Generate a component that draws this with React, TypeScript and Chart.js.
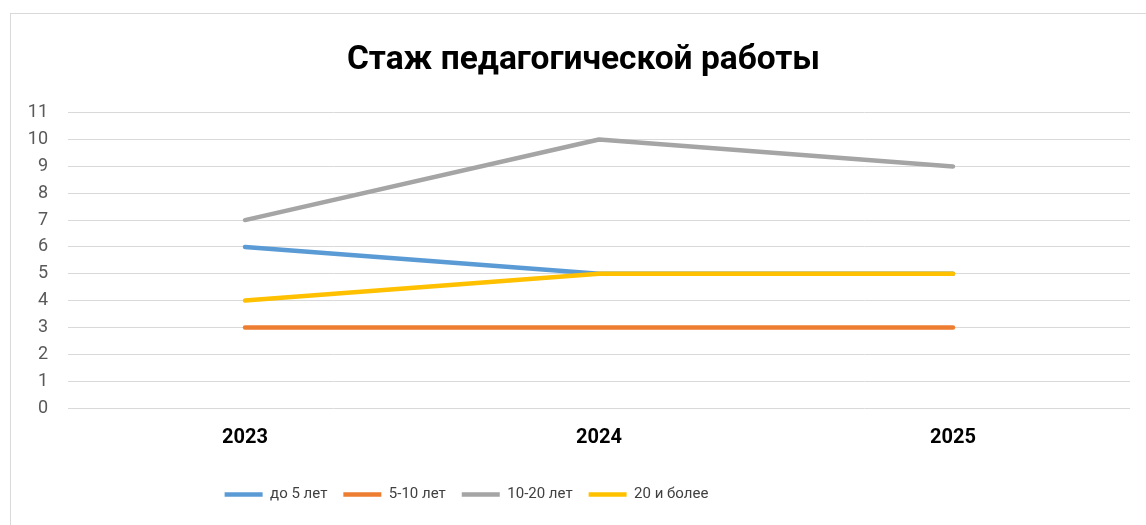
import React, { useEffect, useRef } from "react";
import { Chart, registerables } from "chart.js";

Chart.register(...registerables);

const title = "Стаж педагогической работы";
const categories = ["2023", "2024", "2025"];
const seriesNames = ["до 5 лет", "5-10 лет", "10-20 лет", "20 и более"];
const under5 = [6, 5, 5];
const from5to10 = [3, 3, 3];
const from10to20 = [7, 10, 9];
const over20 = [4, 5, 5];
const seriesColors = ["#5B9BD5", "#ED7D31", "#A5A5A5", "#FFC000"];
const yMin = 0;
const yMax = 11;
const yStep = 1;

const FONT = "Roboto, 'Open Sans', sans-serif";

const blockShift = {
  id: "blockShift",
  afterLayout(chart: any) {
    const lg = chart.legend;
    if (lg) {
      lg.left -= 104;
      lg.right -= 104;
    }
    const tb = chart.titleBlock;
    if (tb) {
      tb.left += 13;
      tb.right += 13;
    }
  },
};

export default function App() {
  const canvasRef = useRef<HTMLCanvasElement | null>(null);

  useEffect(() => {
    const canvas = canvasRef.current;
    if (!canvas) return;
    const values = [under5, from5to10, from10to20, over20];
    const chart = new Chart(canvas, {
      type: "line",
      data: {
        labels: categories,
        datasets: seriesNames.map((name, i) => ({
          label: name,
          data: values[i],
          borderColor: seriesColors[i],
          backgroundColor: seriesColors[i],
          borderWidth: 4.5,
          borderCapStyle: "round" as const,
          borderJoinStyle: "round" as const,
          pointRadius: 0,
          pointHoverRadius: 0,
          tension: 0,
          fill: false,
          order: seriesNames.length - i,
        })),
      },
      plugins: [blockShift],
      options: {
        animation: false,
        responsive: false,
        maintainAspectRatio: false,
        layout: { padding: { left: 0, right: 27, top: 0, bottom: 20 } },
        plugins: {
          title: {
            display: true,
            text: title,
            color: "#000000",
            font: { family: FONT, size: 33.5, weight: "bold" },
            padding: { top: 26.5, bottom: 32 },
          },
          legend: {
            display: true,
            position: "bottom",
            labels: {
              usePointStyle: true,
              pointStyle: "line",
              pointStyleWidth: 38,
              color: "#404040",
              font: { family: FONT, size: 15 },
              padding: 16,
              sort: (a: any, b: any) => a.datasetIndex - b.datasetIndex,
            },
          },
          tooltip: { enabled: false },
        },
        scales: {
          x: {
            offset: true,
            grid: { display: false, drawTicks: false },
            border: { display: false },
            ticks: {
              color: "#000000",
              font: { family: FONT, size: 20, weight: "bold" },
              padding: 18,
            },
            afterFit: (scale: any) => {
              scale.height = 63;
            },
          },
          y: {
            min: yMin,
            max: yMax,
            grid: { color: "#D9D9D9", lineWidth: 1, drawTicks: false },
            border: { display: false },
            ticks: {
              stepSize: yStep,
              color: "#595959",
              font: { family: FONT, size: 18 },
              padding: 20,
            },
            afterFit: (scale: any) => {
              scale.width = 57;
            },
          },
        },
      },
    });
    return () => chart.destroy();
  }, []);

  return (
    <div
      style={{
        position: "absolute",
        left: 10,
        top: 13,
        width: 1148,
        height: 520,
        border: "1px solid #D9D9D9",
        boxSizing: "border-box",
        background: "#ffffff",
      }}
    >
      <canvas ref={canvasRef} width={1146} height={518} style={{ display: "block" }} />
    </div>
  );
}
